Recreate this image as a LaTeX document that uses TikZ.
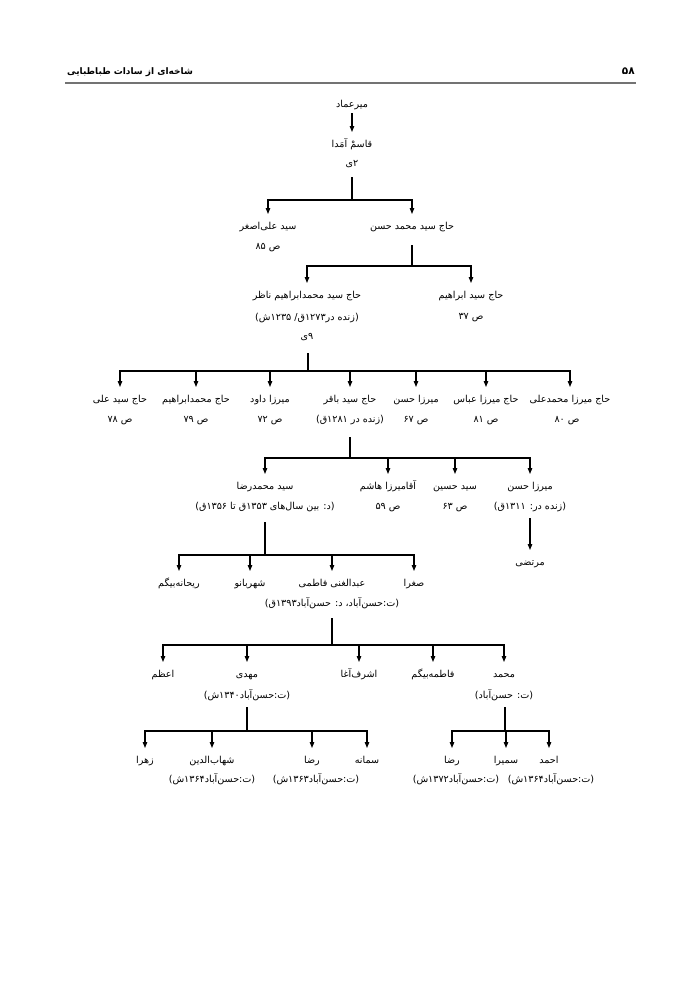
\documentclass[tikz,border=0pt]{standalone}
\usepackage{fontspec}
\newfontfamily\arabicfont[Script=Arabic]{DejaVu Sans}
\TeXXeTstate=1
\usetikzlibrary{arrows.meta}
\newcommand\fa[1]{\beginR#1\endR}
\newcommand\fafont{\arabicfont\fontsize{9.6}{11}\selectfont}
\begin{document}
\begin{tikzpicture}[x=1pt,y=-1pt,
 nm/.style={font=\fafont, inner xsep=1pt, inner ysep=0.5pt, text height=15pt, text depth=3pt, anchor=north},
 sub/.style={font=\fafont, inner sep=1pt, anchor=base},
 hd/.style={font=\arabicfont\bfseries\fontsize{9}{11}\selectfont, inner sep=0pt},
 ln/.style={line width=1.1pt},
 arr/.style={line width=1.1pt, -{Triangle[length=6pt,width=4.5pt]}},
 arr2/.style={line width=1.1pt, {Triangle[length=6pt,width=4.5pt]}-{Triangle[length=6pt,width=4.5pt]}}]
\fill[white] (0,0) rectangle (700,989);
\useasboundingbox (0,0) rectangle (700,989);

% header
\node[hd, anchor=base west] (title) at (67,74) {\fa{شاخه‌ای از سادات طباطبایی}};
\node[hd, anchor=base east, font=\arabicfont\bfseries\fontsize{10.5}{12}\selectfont] (pnum) at (635,74) {\fa{۵۸}};
\draw[line width=1.8pt, black!55] (65,83) -- (636,83);

% level 0
\node[sub] (mir) at (352,107) {\fa{میرعماد}};
\node[nm] (qasem) at (352,132) {\fa{قاسمْ آمَدا}};
\node[sub] (qasemN) at ([yshift=-19pt]qasem.base) {\fa{۲ی}};
\coordinate (s0) at (352,113);

% level 1
\coordinate (s1) at (352,177);
\coordinate (j1) at (352,200);
\node[nm] (asghar) at (268,214) {\fa{سید علی‌اصغر}};
\node[sub] (asgharP) at ([yshift=-20pt]asghar.base) {\fa{ص ۸۵}};
\node[nm] (hasan) at (412,214) {\fa{حاج سید محمد حسن}};

% level 2
\coordinate (s2) at (412,245);
\coordinate (j2) at (412,266);
\node[nm] (nazer) at (307,283) {\fa{حاج سید محمدابراهیم ناظر}};
\node[sub] (nazerB) at ([yshift=-21.5pt]nazer.base) {\fa{(زنده در۱۲۷۳ق/ ۱۲۳۵ش)}};
\node[sub] (nazerN) at ([yshift=-19pt]nazerB.base) {\fa{۹ی}};
\node[nm] (ebrahim) at (471,283) {\fa{حاج سید ابراهیم}};
\node[sub] (ebrahimP) at ([yshift=-21pt]ebrahim.base) {\fa{ص ۳۷}};

% level 3
\coordinate (s3) at (308,353);
\coordinate (j3) at (308,371);
\node[nm] (ali) at (120,387) {\fa{حاج سید علی}};
\node[sub] (aliP) at ([yshift=-20pt]ali.base) {\fa{ص ۷۸}};
\node[nm] (mebr) at (196,387) {\fa{حاج محمدابراهیم}};
\node[sub] (mebrP) at ([yshift=-20pt]mebr.base) {\fa{ص ۷۹}};
\node[nm] (davud) at (270,387) {\fa{میرزا داود}};
\node[sub] (davudP) at ([yshift=-20pt]davud.base) {\fa{ص ۷۲}};
\node[nm] (baqer) at (350,387) {\fa{حاج سید باقر}};
\node[sub] (baqerB) at ([yshift=-20pt]baqer.base) {\fa{(زنده در ۱۲۸۱ق)}};
\node[nm] (hasanm) at (416,387) {\fa{میرزا حسن}};
\node[sub] (hasanmP) at ([yshift=-20pt]hasanm.base) {\fa{ص ۶۷}};
\node[nm] (abbas) at (486,387) {\fa{حاج میرزا عباس}};
\node[sub] (abbasP) at ([yshift=-20pt]abbas.base) {\fa{ص ۸۱}};
\node[nm] (mali) at (570,387) {\fa{حاج میرزا محمدعلی}};
\node[sub] (maliP) at ([yshift=-20pt,xshift=-3pt]mali.base) {\fa{ص ۸۰}};

% level 4
\coordinate (s4) at (350,437);
\coordinate (j4) at (350,458);
\node[nm] (reza) at (265,474) {\fa{سید محمدرضا}};
\node[sub] (rezaB) at ([yshift=-20pt]reza.base) {\fa{(د: بین سال‌های ۱۳۵۳ق تا ۱۳۵۶ق)}};
\node[nm] (hashem) at (388,474) {\fa{آقامیرزا هاشم}};
\node[sub] (hashemP) at ([yshift=-20pt]hashem.base) {\fa{ص ۵۹}};
\node[nm] (hosein) at (455,474) {\fa{سید حسین}};
\node[sub] (hoseinP) at ([yshift=-20pt]hosein.base) {\fa{ص ۶۳}};
\node[nm] (mirhasan) at (530,474) {\fa{میرزا حسن}};
\node[sub] (mirhasanB) at ([yshift=-20pt]mirhasan.base) {\fa{(زنده در: ۱۳۱۱ق)}};
\coordinate (s5) at (530,518);
\node[nm] (morteza) at (530,550) {\fa{مرتضی}};

% level 5
\coordinate (s6) at (265,522);
\coordinate (j6) at (265,555);
\node[nm] (reyhane) at (179,571) {\fa{ریحانه‌بیگم}};
\node[nm] (shahr) at (250,571) {\fa{شهربانو}};
\node[nm] (abdol) at (332,571) {\fa{عبدالغنی فاطمی}};
\node[sub] (abdolB) at ([yshift=-20pt]abdol.base) {\fa{(ت:حسن‌آباد، د: حسن‌آباد۱۳۹۳ق)}};
\node[nm] (soghra) at (414,571) {\fa{صغرا}};

% level 6
\coordinate (s7) at (332,618);
\coordinate (j7) at (332,645);
\node[nm] (azam) at (163,662) {\fa{اعظم}};
\node[nm] (mahdi) at (247,662) {\fa{مهدی}};
\node[sub] (mahdiB) at ([yshift=-21pt]mahdi.base) {\fa{(ت:حسن‌آباد۱۳۴۰ش)}};
\node[nm] (ashraf) at (359,662) {\fa{اشرف‌آغا}};
\node[nm] (fateme) at (433,662) {\fa{فاطمه‌بیگم}};
\node[nm] (mohd) at (504,662) {\fa{محمد}};
\node[sub] (mohdB) at ([yshift=-21pt]mohd.base) {\fa{(ت: حسن‌آباد)}};

% level 7
\coordinate (s8) at (247,707);
\coordinate (j8) at (247,731);
\node[nm] (zahra) at (145,748) {\fa{زهرا}};
\node[nm] (shahab) at (212,748) {\fa{شهاب‌الدین}};
\node[sub] (shahabB) at ([yshift=-19pt]shahab.base) {\fa{(ت:حسن‌آباد۱۳۶۴ش)}};
\node[nm] (rezaa) at (312,748) {\fa{رضا}};
\node[sub] (rezaaB) at ([yshift=-19pt,xshift=4pt]rezaa.base) {\fa{(ت:حسن‌آباد۱۳۶۳ش)}};
\node[nm] (samane) at (367,748) {\fa{سمانه}};
\coordinate (s9) at (505,707);
\coordinate (j9) at (505,731);
\node[nm] (rezab) at (452,748) {\fa{رضا}};
\node[sub] (rezabB) at ([yshift=-19pt,xshift=4pt]rezab.base) {\fa{(ت:حسن‌آباد۱۳۷۲ش)}};
\node[nm] (samira) at (506,748) {\fa{سمیرا}};
\node[nm] (ahmad) at (549,748) {\fa{احمد}};
\node[sub] (ahmadB) at ([yshift=-19pt,xshift=2pt]ahmad.base) {\fa{(ت:حسن‌آباد۱۳۶۴ش)}};

% connectors
\draw[arr] (s0) -- (qasem.north);
\draw[ln] (s1) -- (j1);
\draw[arr2] (asghar.north) -- (asghar.north |- j1) -- (hasan.north |- j1) -- (hasan.north);
\draw[ln] (s2) -- (j2);
\draw[arr2] (nazer.north) -- (nazer.north |- j2) -- (ebrahim.north |- j2) -- (ebrahim.north);
\draw[ln] (s3) -- (j3);
\draw[arr2] (ali.north) -- (ali.north |- j3) -- (mali.north |- j3) -- (mali.north);
\foreach \c in {mebr,davud,baqer,hasanm,abbas} \draw[arr] (\c.north |- j3) -- (\c.north);
\draw[ln] (s4) -- (j4);
\draw[arr2] (reza.north) -- (reza.north |- j4) -- (mirhasan.north |- j4) -- (mirhasan.north);
\foreach \c in {hashem,hosein} \draw[arr] (\c.north |- j4) -- (\c.north);
\draw[arr] (s5) -- (morteza.north);
\draw[ln] (s6) -- (j6);
\draw[arr2] (reyhane.north) -- (reyhane.north |- j6) -- (soghra.north |- j6) -- (soghra.north);
\foreach \c in {shahr,abdol} \draw[arr] (\c.north |- j6) -- (\c.north);
\draw[ln] (s7) -- (j7);
\draw[arr2] (azam.north) -- (azam.north |- j7) -- (mohd.north |- j7) -- (mohd.north);
\foreach \c in {mahdi,ashraf,fateme} \draw[arr] (\c.north |- j7) -- (\c.north);
\draw[ln] (s8) -- (j8);
\draw[arr2] (zahra.north) -- (zahra.north |- j8) -- (samane.north |- j8) -- (samane.north);
\foreach \c in {shahab,rezaa} \draw[arr] (\c.north |- j8) -- (\c.north);
\draw[ln] (s9) -- (j9);
\draw[arr2] (rezab.north) -- (rezab.north |- j9) -- (ahmad.north |- j9) -- (ahmad.north);
\draw[arr] (samira.north |- j9) -- (samira.north);
\end{tikzpicture}
\end{document}
